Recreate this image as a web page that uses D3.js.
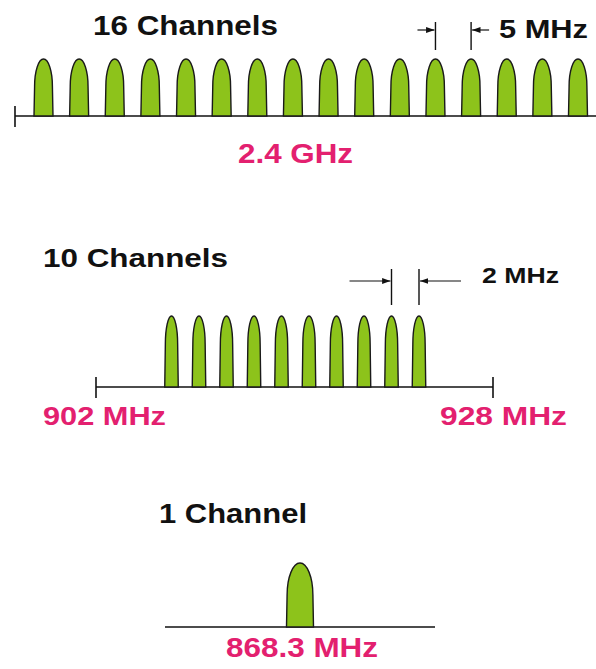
<!DOCTYPE html>
<meta charset="utf-8">
<style>
body{ margin: 0; background: white; }
svg{ display: block; }
text{ font-family: "Liberation Sans", Arial, Helvetica, sans-serif; font-weight: bold; }
.title{ fill: #111; }
.freq{ fill: #e3206f; }
</style>
<body>
<div id="chart"></div>
<script src="https://cdn.jsdelivr.net/npm/d3@7"></script>
<script>
// channel centre frequencies, MHz
var ch24 = [2405, 2410, 2415, 2420, 2425, 2430, 2435, 2440, 2445, 2450, 2455, 2460, 2465, 2470, 2475, 2480]
var ch915 = [906, 908, 910, 912, 914, 916, 918, 920, 922, 924]
var ch868 = [868.3]
// band ends drawn on each axis
var band24 = [2401, 2490]
var band915 = [902, 928]
var band868 = [868.0, 868.6]
var titles = ['16 Channels', '10 Channels', '1 Channel']
var freqLabels = ['2.4 GHz', '902 MHz', '928 MHz', '868.3 MHz']
var spacingLabels = ['5 MHz', '2 MHz']

var width = 596, height = 669

var svg = d3.select('#chart').append('svg')
    .attr('width', width).attr('height', height)

var defs = svg.append('defs')
defs.append('marker')
    .attr('id', 'arr')
    .attr('viewBox', '0 0 10 10')
    .attr('refX', 10).attr('refY', 5)
    .attr('markerWidth', 7).attr('markerHeight', 7)
    .attr('orient', 'auto')
  .append('path')
    .attr('d', 'M0,1.5 L10,5 L0,8.5 Z')
    .attr('fill', '#111')

// straight sides, half-ellipse top
function bump(cx, base, w, h, arch){
  var l = cx - w/2, r = cx + w/2, top = base - h
  var rx = w/2
  return 'M' + l + ',' + base +
    ' L' + (l + 0.6) + ',' + (top + arch) +
    ' A' + (rx - 0.6) + ',' + arch + ' 0 0 1 ' + (r - 0.6) + ',' + (top + arch) +
    ' L' + r + ',' + base + ' Z'
}

function panel(opts){
  var g = svg.append('g')
  var x = opts.x
  var xb = opts.xb || x
  var base = opts.base

  g.append('line')
      .attr('x1', xb(opts.band[0])).attr('x2', xb(opts.band[1]))
      .attr('y1', base).attr('y2', base)
      .attr('stroke', '#111').attr('stroke-width', 1.6)

  if (opts.ticks) {
    g.selectAll('.tick').data(opts.ticks).enter().append('line')
        .attr('x1', function(d){ return xb(d) }).attr('x2', function(d){ return xb(d) })
        .attr('y1', base - 10).attr('y2', base + 11)
        .attr('stroke', '#111').attr('stroke-width', 1.6)
  }

  g.selectAll('.ch').data(opts.channels).enter().append('path')
      .attr('d', function(d){ return bump(x(d), base, opts.bw, opts.bh, opts.arch) })
      .attr('fill', '#8dc31b')
      .attr('stroke', '#1a1a1a').attr('stroke-width', 1.4)
  return g
}

// 2.4 GHz band
var x1 = d3.scaleLinear().domain([2405, 2480]).range([43.5, 578])
panel({x: x1, base: 116, band: band24, ticks: [band24[0]], channels: ch24, bw: 19, bh: 57, arch: 27})

// 915 MHz band
var x2 = d3.scaleLinear().domain([906, 924]).range([171.5, 419])
var x2b = d3.scaleLinear().domain(band915).range([96, 493])
panel({x: x2, xb: x2b, base: 387, band: band915, ticks: band915, channels: ch915, bw: 13.5, bh: 71, arch: 28})

// 868 MHz band
var x3 = d3.scaleLinear().domain(band868).range([165, 435])
panel({x: x3, base: 627, band: band868, channels: ch868, bw: 27, bh: 64, arch: 32})

// titles
svg.append('text').attr('class', 'title')
    .attr('x', 93).attr('y', 35).attr('font-size', 27)
    .attr('textLength', 185).attr('lengthAdjust', 'spacingAndGlyphs')
    .text(titles[0])
svg.append('text').attr('class', 'title')
    .attr('x', 43).attr('y', 267).attr('font-size', 26)
    .attr('textLength', 185).attr('lengthAdjust', 'spacingAndGlyphs')
    .text(titles[1])
svg.append('text').attr('class', 'title')
    .attr('x', 159).attr('y', 523).attr('font-size', 27)
    .attr('textLength', 148).attr('lengthAdjust', 'spacingAndGlyphs')
    .text(titles[2])

// frequency labels
svg.append('text').attr('class', 'freq')
    .attr('x', 238).attr('y', 163).attr('font-size', 28)
    .attr('textLength', 115).attr('lengthAdjust', 'spacingAndGlyphs')
    .text(freqLabels[0])
svg.append('text').attr('class', 'freq')
    .attr('x', x2b(band915[0]) - 53).attr('y', 425).attr('font-size', 25)
    .attr('textLength', 123).attr('lengthAdjust', 'spacingAndGlyphs')
    .text(freqLabels[1])
svg.append('text').attr('class', 'freq')
    .attr('x', x2b(band915[1]) - 53).attr('y', 425).attr('font-size', 25)
    .attr('textLength', 127).attr('lengthAdjust', 'spacingAndGlyphs')
    .text(freqLabels[2])
svg.append('text').attr('class', 'freq')
    .attr('x', x3(ch868[0]) - 74).attr('y', 657).attr('font-size', 27)
    .attr('textLength', 152).attr('lengthAdjust', 'spacingAndGlyphs')
    .text(freqLabels[3])

// channel spacing markers
function spacing(xa, xc, y0, y1, ya, len, label, lx, ly, fs, tl){
  var g = svg.append('g').attr('stroke', '#111')
  g.append('line').attr('x1', xa).attr('x2', xa).attr('y1', y0).attr('y2', y1).attr('stroke-width', 1.4)
  g.append('line').attr('x1', xc).attr('x2', xc).attr('y1', y0).attr('y2', y1).attr('stroke-width', 1.4)
  g.append('line').attr('x1', xa - len).attr('x2', xa - 1).attr('y1', ya).attr('y2', ya)
      .attr('stroke-width', 1.2).attr('marker-end', 'url(#arr)')
  g.append('line').attr('x1', xc + len).attr('x2', xc + 1).attr('y1', ya).attr('y2', ya)
      .attr('stroke-width', 1.2).attr('marker-end', 'url(#arr)')
  svg.append('text').attr('class', 'title')
      .attr('x', lx).attr('y', ly).attr('font-size', fs)
      .attr('textLength', tl).attr('lengthAdjust', 'spacingAndGlyphs')
      .text(label)
}
spacing(x1(ch24[11]), x1(ch24[12]), 22, 50, 30, 18, spacingLabels[0], 499, 38, 25, 89)
spacing(x2(ch915[8]), x2(ch915[9]), 269, 305, 281, 42, spacingLabels[1], 482, 283, 22, 77)
</script>
</body>
